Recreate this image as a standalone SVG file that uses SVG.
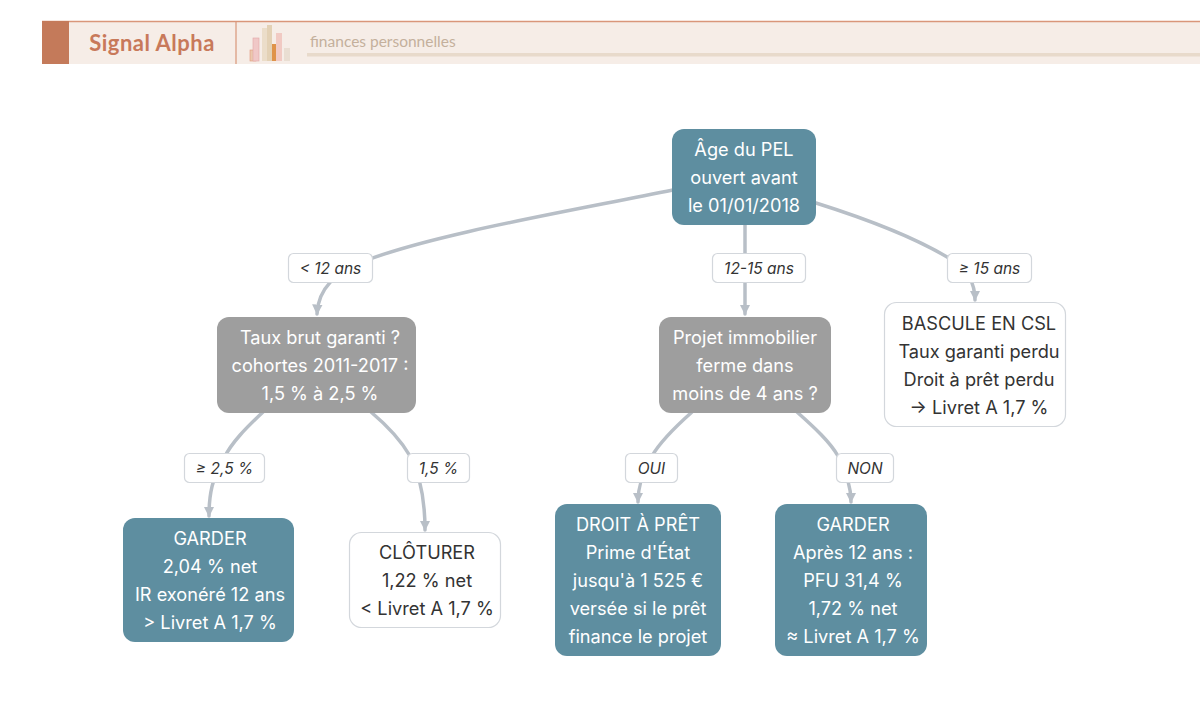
<svg xmlns="http://www.w3.org/2000/svg" width="1200" height="721" viewBox="0 0 1200 721">
<defs>
<style>
.teal{fill:#5e8ea0;}
.gray{fill:#9e9e9e;}
.white{fill:#ffffff;stroke:#d3d7dc;stroke-width:1.2;}
.nt{font-family:Inter,"Noto Sans",sans-serif;font-size:18.2px;text-anchor:middle;dominant-baseline:central;}
.lt{fill:#ffffff;}
.dt{fill:#333333;}
.lbl rect{fill:#ffffff;stroke:#d3d7dc;stroke-width:1.2;}
.lbl text{font-family:Inter,"Noto Sans",sans-serif;font-size:15.5px;font-style:italic;fill:#333333;text-anchor:middle;dominant-baseline:central;}
.edge{fill:none;stroke:#b8bfc7;stroke-width:3.5;stroke-linecap:round;}
</style>
<marker id="arr" viewBox="0 0 10 10" refX="9" refY="5" markerWidth="3" markerHeight="3" orient="auto" markerUnits="strokeWidth">
<path d="M0,0 L10,5 L0,10 z" fill="#b8bfc7"/>
</marker>
</defs>
<rect width="1200" height="721" fill="#ffffff"/>
<g id="header">
<rect x="42" y="21" width="1158" height="43" fill="#f6ede7"/>
<line x1="42" y1="21.5" x2="1200" y2="21.5" stroke="#d9967a" stroke-width="1.5"/>
<rect x="42" y="21" width="27" height="43" fill="#c47a5a"/>
<line x1="236" y1="21" x2="236" y2="64" stroke="#d9967a" stroke-width="1.2"/>
<text x="152" y="51" font-family="Lato,'Noto Sans',sans-serif" font-weight="700" font-size="22" letter-spacing="0.5" fill="#c8795a" text-anchor="middle">Signal Alpha</text>
<g opacity="0.9">
<rect x="250" y="50" width="6" height="11" fill="#eac4a8" stroke="#e09070" stroke-width="0.6"/>
<rect x="253" y="38" width="6" height="23" fill="#f0c4c4" stroke="#e0a0a0" stroke-width="0.6"/>
<rect x="262" y="28" width="6" height="33" fill="#eadcc6"/>
<rect x="267" y="25" width="5" height="36" fill="#e2cfb0"/>
<rect x="272" y="44" width="6" height="17" fill="#dd8a3a"/>
<rect x="276" y="33" width="6" height="28" fill="#f1c7c0"/>
<rect x="284" y="48" width="6" height="13" fill="#e8ddd0"/>
</g>
<text x="310" y="47" font-family="Lato,'Noto Sans',sans-serif" font-size="15.5" fill="#c4b09c">finances personnelles</text>
<rect x="307" y="53" width="893" height="3.5" fill="#e8dacb"/>
</g>
<g id="connectors">
<path class="edge" d="M673,190 C560,213 430,235 362,262 C336,273 318,288 317,314" marker-end="url(#arr)"/>
<path class="edge" d="M745,224 L745,314" marker-end="url(#arr)"/>
<path class="edge" d="M816,203 C870,220 920,240 952,260 C968,271 975,283 975,300" marker-end="url(#arr)"/>
<path class="edge" d="M263,412 C246,428 232,442 224,458 C212,478 209,495 209,516" marker-end="url(#arr)"/>
<path class="edge" d="M371,412 C390,428 402,442 410,456 C420,475 425,500 425,530" marker-end="url(#arr)"/>
<path class="edge" d="M692,412 C674,428 660,442 652,456 C641,475 638,488 638,502" marker-end="url(#arr)"/>
<path class="edge" d="M797,412 C815,428 830,442 838,456 C848,475 851,488 851,502" marker-end="url(#arr)"/>
</g>
<g id="label-lt12" class="lbl"><rect x="288.5" y="253.5" width="84" height="29" rx="5"/><text x="330.5" y="268">&lt; 12 ans</text></g>
<g id="label-12-15" class="lbl"><rect x="712.5" y="253.5" width="93" height="29" rx="5"/><text x="759" y="268">12-15 ans</text></g>
<g id="label-ge15" class="lbl"><rect x="947.5" y="253.5" width="84" height="29" rx="5"/><text x="989.5" y="268">≥ 15 ans</text></g>
<g id="label-ge25" class="lbl"><rect x="184.5" y="453.5" width="80" height="29" rx="5"/><text x="224.5" y="468">≥ 2,5 %</text></g>
<g id="label-15" class="lbl"><rect x="407.5" y="453.5" width="62" height="29" rx="5"/><text x="438.5" y="468">1,5 %</text></g>
<g id="label-oui" class="lbl"><rect x="625.5" y="453.5" width="52" height="29" rx="5"/><text x="651.5" y="468">OUI</text></g>
<g id="label-non" class="lbl"><rect x="836.5" y="453.5" width="57" height="29" rx="5"/><text x="865" y="468">NON</text></g>
<g id="node-root">
<rect class="teal" x="672" y="129" width="144" height="96" rx="12"/>
<text class="nt lt" x="744" y="149">Âge du PEL</text>
<text class="nt lt" x="744" y="177">ouvert avant</text>
<text class="nt lt" x="744" y="205">le 01/01/2018</text>
</g>
<g id="node-taux">
<rect class="gray" x="217" y="317" width="199" height="96" rx="12"/>
<text class="nt lt" x="320" y="337">Taux brut garanti ?</text>
<text class="nt lt" x="320" y="365">cohortes 2011-2017 :</text>
<text class="nt lt" x="320" y="393">1,5 % à 2,5 %</text>
</g>
<g id="node-projet">
<rect class="gray" x="659" y="317" width="172" height="96" rx="12"/>
<text class="nt lt" x="745" y="337">Projet immobilier</text>
<text class="nt lt" x="745" y="365">ferme dans</text>
<text class="nt lt" x="745" y="393">moins de 4 ans ?</text>
</g>
<g id="node-bascule">
<rect class="white" x="884.5" y="302.5" width="181" height="124" rx="12"/>
<text class="nt dt" x="979" y="323">BASCULE EN CSL</text>
<text class="nt dt" x="979" y="351">Taux garanti perdu</text>
<text class="nt dt" x="979" y="379">Droit à prêt perdu</text>
<text class="nt dt" x="979" y="407">→ Livret A 1,7 %</text>
</g>
<g id="node-garder1">
<rect class="teal" x="123" y="518" width="171" height="124" rx="12"/>
<text class="nt lt" x="210" y="538">GARDER</text>
<text class="nt lt" x="210" y="566">2,04 % net</text>
<text class="nt lt" x="210" y="594">IR exonéré 12 ans</text>
<text class="nt lt" x="210" y="622">&gt; Livret A 1,7 %</text>
</g>
<g id="node-cloturer">
<rect class="white" x="349.5" y="532.5" width="151" height="95" rx="12"/>
<text class="nt dt" x="427" y="552">CLÔTURER</text>
<text class="nt dt" x="427" y="580">1,22 % net</text>
<text class="nt dt" x="427" y="608">&lt; Livret A 1,7 %</text>
</g>
<g id="node-droit">
<rect class="teal" x="555" y="504" width="166" height="152" rx="12"/>
<text class="nt lt" x="638" y="524">DROIT À PRÊT</text>
<text class="nt lt" x="638" y="552">Prime d'État</text>
<text class="nt lt" x="638" y="580">jusqu'à 1 525 €</text>
<text class="nt lt" x="638" y="608">versée si le prêt</text>
<text class="nt lt" x="638" y="636">finance le projet</text>
</g>
<g id="node-garder2">
<rect class="teal" x="775" y="504" width="152" height="152" rx="12"/>
<text class="nt lt" x="853" y="524">GARDER</text>
<text class="nt lt" x="853" y="552">Après 12 ans :</text>
<text class="nt lt" x="853" y="580">PFU 31,4 %</text>
<text class="nt lt" x="853" y="608">1,72 % net</text>
<text class="nt lt" x="853" y="636">≈ Livret A 1,7 %</text>
</g>
</svg>
